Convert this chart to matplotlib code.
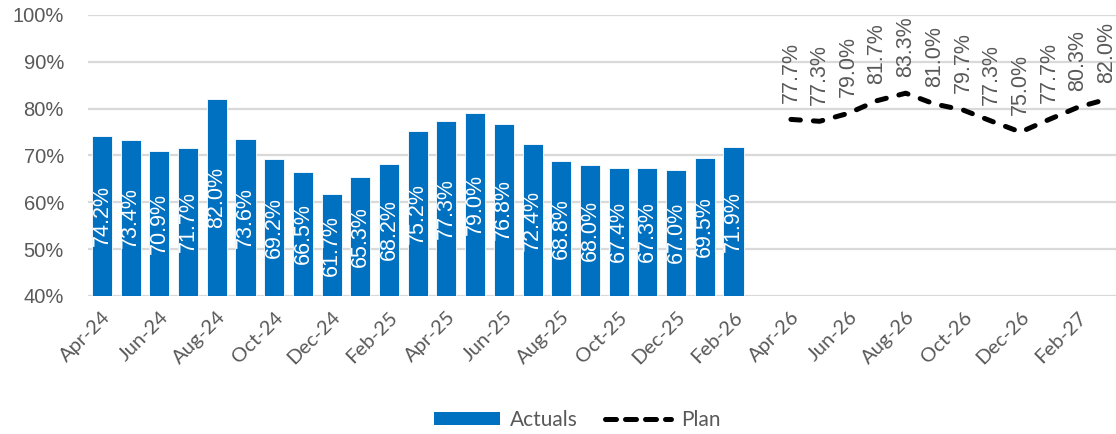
import matplotlib
matplotlib.use("Agg")
import matplotlib.pyplot as plt
from matplotlib.patches import Patch
from matplotlib.lines import Line2D

months = ["Apr-24", "May-24", "Jun-24", "Jul-24", "Aug-24", "Sep-24", "Oct-24", "Nov-24",
          "Dec-24", "Jan-25", "Feb-25", "Mar-25", "Apr-25", "May-25", "Jun-25", "Jul-25",
          "Aug-25", "Sep-25", "Oct-25", "Nov-25", "Dec-25", "Jan-26", "Feb-26", "Mar-26",
          "Apr-26", "May-26", "Jun-26", "Jul-26", "Aug-26", "Sep-26", "Oct-26", "Nov-26",
          "Dec-26", "Jan-27", "Feb-27", "Mar-27"]

actuals = [74.2, 73.4, 70.9, 71.7, 82.0, 73.6, 69.2, 66.5, 61.7, 65.3, 68.2, 75.2,
           77.3, 79.0, 76.8, 72.4, 68.8, 68.0, 67.4, 67.3, 67.0, 69.5, 71.9]
plan = [77.7, 77.3, 79.0, 81.7, 83.3, 81.0, 79.7, 77.3, 75.0, 77.7, 80.3, 82.0]
plan_start = months.index("Apr-26")

BLUE = "#0070C0"
GRAY = "#595959"
GRID = "#D9D9D9"
DASH = (0, (1.9, 2.6))

fig = plt.figure(figsize=(11.16, 4.34), dpi=100)
ax = fig.add_axes([0.0785, 0.318, 0.926, 0.6475])

x_act = list(range(len(actuals)))
ax.bar(x_act, actuals, width=0.70, bottom=0, color=BLUE,
       edgecolor="white", linewidth=0.6, zorder=2)
for xi, v in zip(x_act, actuals):
    ax.text(xi, (40 + v) / 2, f"{v:.1f}%", rotation=90, ha="center", va="center",
            color="white", fontsize=15.5, family="Liberation Sans", zorder=3)

x_plan = list(range(plan_start, plan_start + len(plan)))
ax.plot(x_plan, plan, color="black", linewidth=3.6, linestyle=DASH,
        dash_capstyle="round", solid_capstyle="round", zorder=3)
for xi, v in zip(x_plan, plan):
    ax.annotate(f"{v:.1f}%", (xi, v), xytext=(0, 12), textcoords="offset points",
                rotation=90, ha="center", va="bottom", color=GRAY, fontsize=15.5,
                family="Liberation Sans")

ax.set_xlim(-0.5, len(months) - 0.5)
ax.set_ylim(40, 100)
ax.set_yticks(range(40, 101, 10))
ax.set_yticklabels([f"{t}%" for t in range(40, 101, 10)], fontsize=14.5,
                   color=GRAY, family="Liberation Sans")
ax.tick_params(axis="y", length=0, pad=17)

tick_pos = list(range(0, len(months), 2))
ax.set_xticks(tick_pos)
ax.set_xticklabels([months[i] for i in tick_pos], rotation=45, ha="right",
                   rotation_mode="anchor", fontsize=14.5, color=GRAY, family="Lato")
ax.tick_params(axis="x", length=0, pad=9)

ax.grid(axis="y", color=GRID, linewidth=1.6, zorder=0)
ax.set_axisbelow(True)
for s in ax.spines.values():
    s.set_visible(False)

handles = [Patch(facecolor=BLUE, edgecolor="none", label="Actuals"),
           Line2D([0], [0], color="black", linewidth=3.6, linestyle=(0, (2.2, 1.8)),
                  dash_capstyle="round", label="Plan")]
leg = fig.legend(handles=handles, loc="center", bbox_to_anchor=(0.517, 0.032), ncol=2,
                 frameon=False, handlelength=3.2, handleheight=0.55, handletextpad=0.45,
                 columnspacing=1.3, prop={"family": "Lato", "size": 15})
for t in leg.get_texts():
    t.set_color(GRAY)

fig.savefig("out.png", dpi=100)
